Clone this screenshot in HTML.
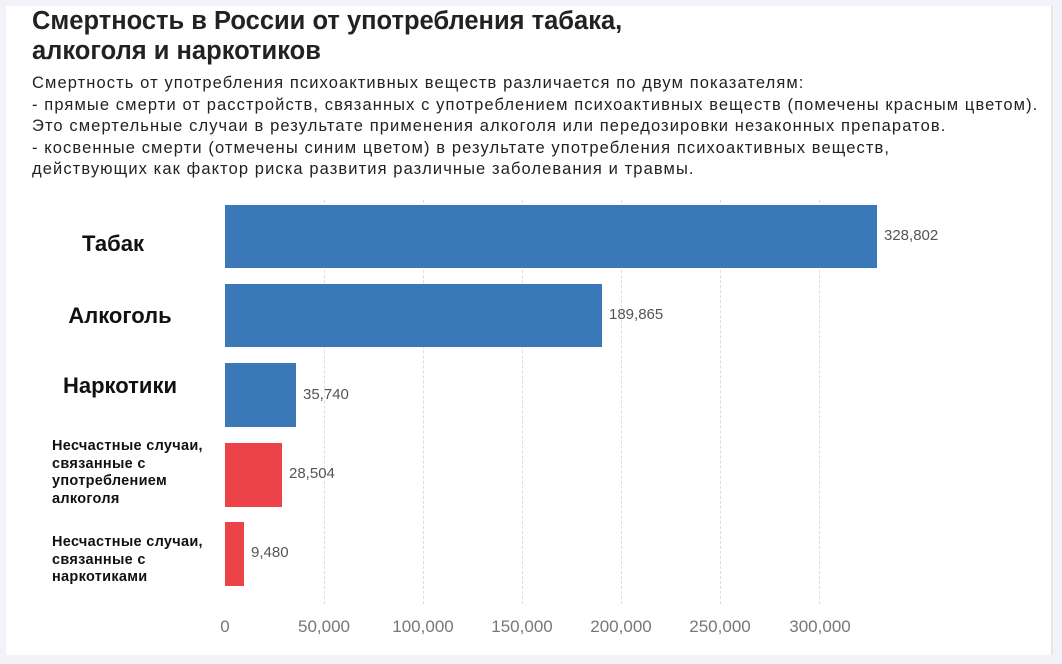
<!DOCTYPE html>
<html><head><meta charset="utf-8"><style>
body{margin:0;width:1062px;height:664px;background:#f1f3f8;font-family:"Liberation Sans","Noto Sans CJK SC",sans-serif;overflow:hidden;position:relative}
.panel{position:absolute;left:6px;top:6px;width:1045px;height:649px;background:#fff;border-right:2px solid #e6e6e6}
.t{position:absolute;left:32px;top:6px;font-size:25.5px;font-weight:bold;color:#222;line-height:30px}
.d{position:absolute;left:32px;top:73px;font-size:16.5px;letter-spacing:1.1px;color:#222;line-height:21.5px;white-space:nowrap}
.bar{position:absolute;left:225px}
.v{position:absolute;font-size:15px;color:#555}
.l{position:absolute;font-weight:bold;color:#111;text-align:center}
.g{position:absolute;top:200px;height:404px;border-left:1px dashed #ddd}
.tk{position:absolute;top:617px;font-size:17px;color:#777;transform:translateX(-50%)}
</style></head><body>
<div class="panel"></div>
<div class="t">Смертность в России от употребления табака,<br>алкоголя и наркотиков</div>
<div class="d">Смертность от употребления психоактивных веществ различается по двум показателям:<br>- прямые смерти от расстройств, связанных с употреблением психоактивных веществ (помечены красным цветом).<br>Это смертельные случаи в результате применения алкоголя или передозировки незаконных препаратов.<br>- косвенные смерти (отмечены синим цветом) в результате употребления психоактивных веществ,<br>действующих как фактор риска развития различные заболевания и травмы.</div>
<div class="g" style="left:324px"></div><div class="g" style="left:423px"></div><div class="g" style="left:522px"></div><div class="g" style="left:621px"></div><div class="g" style="left:720px"></div><div class="g" style="left:819px"></div>
<div class="bar" style="top:205px;width:652px;height:63px;background:#3b78b8"></div>
<div class="bar" style="top:284px;width:377px;height:63px;background:#3b78b8"></div>
<div class="bar" style="top:363px;width:71px;height:64px;background:#3b78b8"></div>
<div class="bar" style="top:443px;width:57px;height:64px;background:#ec4349"></div>
<div class="bar" style="top:522px;width:19px;height:64px;background:#ec4349"></div>
<div class="v" style="left:884px;top:227px">328,802</div>
<div class="v" style="left:609px;top:306px">189,865</div>
<div class="v" style="left:303px;top:386px">35,740</div>
<div class="v" style="left:289px;top:465px">28,504</div>
<div class="v" style="left:251px;top:544px">9,480</div>
<div class="l" style="left:57px;width:112px;top:231px;font-size:22px">Табак</div>
<div class="l" style="left:50px;width:140px;top:303px;font-size:22px">Алкоголь</div>
<div class="l" style="left:50px;width:140px;top:373px;font-size:22px">Наркотики</div>
<div class="l" style="left:52px;width:170px;top:438px;font-size:14.5px;letter-spacing:0.3px;text-align:left;line-height:17.5px">Несчастные случаи,<br>связанные с<br>употреблением<br>алкоголя</div>
<div class="l" style="left:52px;width:170px;top:534px;font-size:14.5px;letter-spacing:0.3px;text-align:left;line-height:17.5px">Несчастные случаи,<br>связанные с<br>наркотиками</div>
<div class="tk" style="left:225px">0</div>
<div class="tk" style="left:324px">50,000</div>
<div class="tk" style="left:423px">100,000</div>
<div class="tk" style="left:522px">150,000</div>
<div class="tk" style="left:621px">200,000</div>
<div class="tk" style="left:720px">250,000</div>
<div class="tk" style="left:820px">300,000</div>
</body></html>
